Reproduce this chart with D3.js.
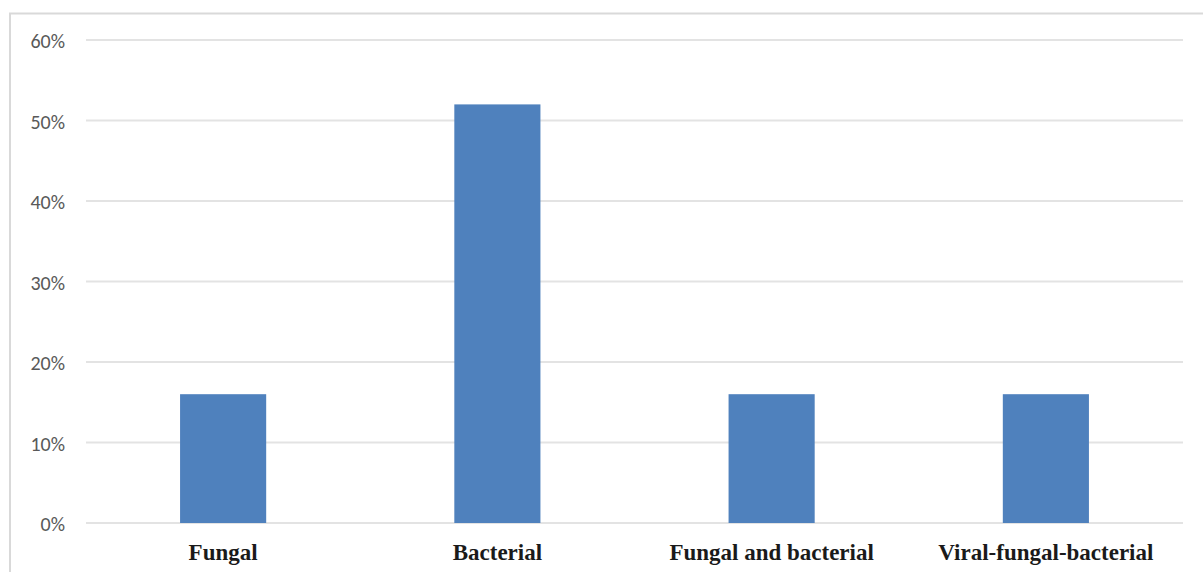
<!DOCTYPE html>
<html><head><meta charset="utf-8">
<script src="https://cdn.jsdelivr.net/npm/d3@7"></script>
<style>body{margin:0;background:#fff}svg{display:block}</style>
</head><body>
<svg id="c" width="1203" height="572"></svg>
<script>
const categories = ["Fungal","Bacterial","Fungal and bacterial","Viral-fungal-bacterial"];
const values = [0.16, 0.52, 0.16, 0.16];
const yTicks = [0,0.1,0.2,0.3,0.4,0.5,0.6];

const svg = d3.select("#c");
const m = {left:86, right:1183, top:40, bottom:523};

svg.append("rect").attr("x",10).attr("y",13.5).attr("width",1203).attr("height",600)
  .attr("fill","none").attr("stroke","#d9d9d9").attr("stroke-width",2);

const x = d3.scaleBand().domain(categories).range([m.left,m.right]).paddingInner(0.686).paddingOuter(0.343);
const y = d3.scaleLinear().domain([0,0.6]).range([m.bottom,m.top]);

svg.append("g").selectAll("line").data(yTicks).join("line")
  .attr("x1",m.left).attr("x2",m.right).attr("y1",d=>y(d)).attr("y2",d=>y(d))
  .attr("stroke","#e3e3e3").attr("stroke-width",2);

svg.append("g").selectAll("text").data(yTicks).join("text")
  .attr("x",65).attr("y",d=>y(d)+1).attr("dy","0.36em").attr("text-anchor","end")
  .attr("font-family","Carlito, 'Liberation Sans', sans-serif").attr("font-size",20).attr("fill","#595959")
  .text(d3.format(".0%"));

svg.append("g").selectAll("rect").data(values).join("rect")
  .attr("x",(d,i)=>x(categories[i])).attr("width",x.bandwidth())
  .attr("y",d=>y(d)).attr("height",d=>y(0)-y(d)).attr("fill","#4f81bd");

svg.append("g").selectAll("text").data(categories).join("text")
  .attr("x",d=>x(d)+x.bandwidth()/2).attr("y",560).attr("text-anchor","middle")
  .attr("font-family","'Liberation Serif', 'Times New Roman', serif").attr("font-weight","bold")
  .attr("font-size",23).attr("fill","#1a1a1a").text(d=>d);
</script>
</body></html>
